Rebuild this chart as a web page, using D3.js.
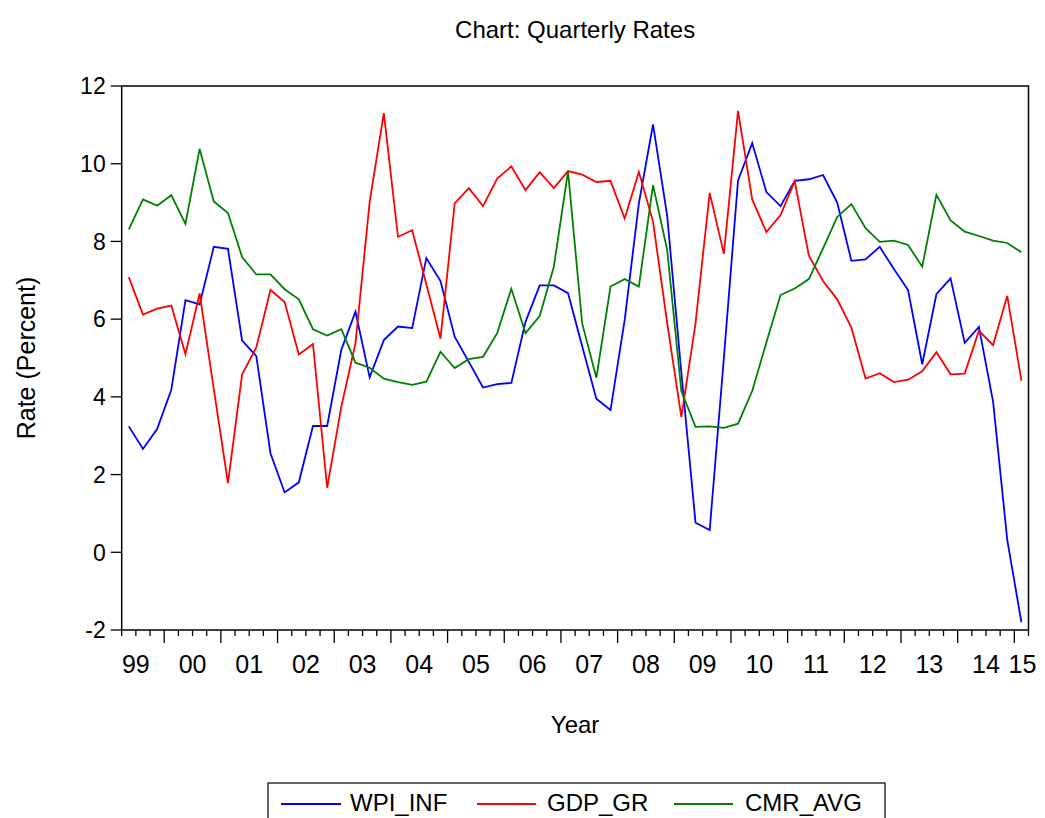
<!DOCTYPE html>
<html>
<head>
<meta charset="utf-8">
<script src="https://cdn.jsdelivr.net/npm/d3@7"></script>
<style>
  html, body { margin: 0; padding: 0; background: #fff; }
  svg { display: block; font-family: "Liberation Sans", Arial, sans-serif; }
</style>
</head>
<body>
<svg id="chart" width="1045" height="818"></svg>
<script>
const quarters = [
  "1999Q2","1999Q3","1999Q4",
  "2000Q1","2000Q2","2000Q3","2000Q4","2001Q1","2001Q2","2001Q3","2001Q4",
  "2002Q1","2002Q2","2002Q3","2002Q4","2003Q1","2003Q2","2003Q3","2003Q4",
  "2004Q1","2004Q2","2004Q3","2004Q4","2005Q1","2005Q2","2005Q3","2005Q4",
  "2006Q1","2006Q2","2006Q3","2006Q4","2007Q1","2007Q2","2007Q3","2007Q4",
  "2008Q1","2008Q2","2008Q3","2008Q4","2009Q1","2009Q2","2009Q3","2009Q4",
  "2010Q1","2010Q2","2010Q3","2010Q4","2011Q1","2011Q2","2011Q3","2011Q4",
  "2012Q1","2012Q2","2012Q3","2012Q4","2013Q1","2013Q2","2013Q3","2013Q4",
  "2014Q1","2014Q2","2014Q3","2014Q4","2015Q1"
];
const wpiInf = [3.24,2.66,3.17,4.18,6.49,6.38,7.86,7.81,5.45,5.05,2.55,1.54,1.8,3.25,3.25,5.21,
  6.19,4.5,5.46,5.81,5.77,7.57,6.98,5.55,4.9,4.24,4.33,4.36,5.93,6.87,6.87,6.67,
  5.3,3.95,3.66,5.98,8.98,11.01,8.66,4.62,0.76,0.57,5.0,9.57,10.53,9.27,8.91,9.56,
  9.6,9.71,9.0,7.5,7.54,7.86,7.29,6.75,4.84,6.64,7.05,5.39,5.8,3.88,0.32,-1.8];
const gdpGr = [7.08,6.12,6.27,6.35,5.1,6.66,4.2,1.78,4.58,5.27,6.75,6.44,5.09,5.36,1.66,3.75,
  5.38,9.02,11.3,8.12,8.29,6.9,5.5,8.98,9.37,8.91,9.62,9.93,9.32,9.78,9.37,9.81,
  9.72,9.53,9.56,8.59,9.79,8.51,5.9,3.48,5.9,9.25,7.68,11.36,9.08,8.24,8.68,9.55,
  7.63,6.98,6.51,5.78,4.47,4.61,4.38,4.44,4.66,5.15,4.58,4.6,5.7,5.33,6.6,4.42];
const cmrAvg = [8.31,9.08,8.92,9.19,8.45,10.38,9.03,8.73,7.6,7.15,7.15,6.77,6.51,5.74,5.58,5.74,
  4.88,4.75,4.47,4.38,4.31,4.39,5.16,4.74,4.97,5.03,5.64,6.78,5.64,6.08,7.35,9.8,
  5.89,4.49,6.84,7.03,6.84,9.45,7.78,4.15,3.23,3.24,3.2,3.31,4.15,5.4,6.62,6.79,
  7.03,7.82,8.63,8.96,8.34,7.99,8.02,7.91,7.35,9.2,8.54,8.25,8.14,8.02,7.96,7.72];
const yearLabels = ["99","00","01","02","03","04","05","06","07","08","09","10","11","12","13","14","15"];
const yTicks = [-2,0,2,4,6,8,10,12];
const seriesNames = ["WPI_INF","GDP_GR","CMR_AVG"];
const seriesColors = ["#0000FF","#FF0000","#008000"];

const svg = d3.select("#chart");
const L = 121.7, R = 1028.5, T = 86, B = 630;
const n = quarters.length;
const x = d3.scaleLinear().domain([0, n]).range([L, R]);
const y = d3.scaleLinear().domain([-2, 12]).range([B, T]);

// title
svg.append("text").attr("x", (L + R) / 2).attr("y", 38).attr("text-anchor", "middle")
  .attr("font-size", 24).text("Chart: Quarterly Rates");

// y axis ticks
const yg = svg.append("g");
yTicks.forEach(t => {
  yg.append("line").attr("x1", L - 11).attr("x2", L).attr("y1", y(t)).attr("y2", y(t))
    .attr("stroke", "#000").attr("stroke-width", 1.3);
  yg.append("text").attr("x", L - 16).attr("y", y(t)).attr("dy", "0.36em")
    .attr("text-anchor", "end").attr("font-size", 23).text(t);
});

// x axis ticks (quarter boundaries; year starts are major)
const xg = svg.append("g");
d3.range(0, n + 1).forEach(i => {
  const q = i < n ? quarters[i] : "";
  const major = q.endsWith("Q1");
  xg.append("line").attr("x1", x(i)).attr("x2", x(i)).attr("y1", B)
    .attr("y2", B + (major ? 13 : 6)).attr("stroke", "#000").attr("stroke-width", 1.3);
});
yearLabels.forEach((lab, k) => {
  let cx = x(4 * k + 1);
  cx = Math.min(cx, R - 6);
  xg.append("text").attr("x", cx).attr("y", 673).attr("text-anchor", "middle")
    .attr("font-size", 25).text(lab);
});

// axis titles
svg.append("text").attr("x", (L + R) / 2).attr("y", 733).attr("text-anchor", "middle")
  .attr("font-size", 24).text("Year");
svg.append("text").attr("transform", `translate(35,${(T + B) / 2}) rotate(-90)`)
  .attr("text-anchor", "middle").attr("font-size", 25).text("Rate (Percent)");

// lines
const line = d3.line().x((d, i) => x(i + 0.5)).y(d => y(d));
[wpiInf, gdpGr, cmrAvg].forEach((s, k) => {
  svg.append("path").datum(s).attr("d", line).attr("fill", "none")
    .attr("stroke", seriesColors[k]).attr("stroke-width", 1.8)
    .attr("stroke-linejoin", "miter");
});

// frame
svg.append("rect").attr("x", L).attr("y", T).attr("width", R - L).attr("height", B - T)
  .attr("fill", "none").attr("stroke", "#000").attr("stroke-width", 1.5);

// legend
const lg = svg.append("g");
lg.append("rect").attr("x", 268).attr("y", 783).attr("width", 617).attr("height", 60)
  .attr("fill", "none").attr("stroke", "#000").attr("stroke-width", 1.2);
const legItems = [
  {x1: 281, x2: 341, tx: 350},
  {x1: 477, x2: 536, tx: 547},
  {x1: 674, x2: 733, tx: 745}
];
legItems.forEach((it, k) => {
  lg.append("line").attr("x1", it.x1).attr("x2", it.x2).attr("y1", 804).attr("y2", 804)
    .attr("stroke", seriesColors[k]).attr("stroke-width", 1.8);
  lg.append("text").attr("x", it.tx).attr("y", 811).attr("font-size", 24).text(seriesNames[k]);
});
</script>
</body>
</html>
